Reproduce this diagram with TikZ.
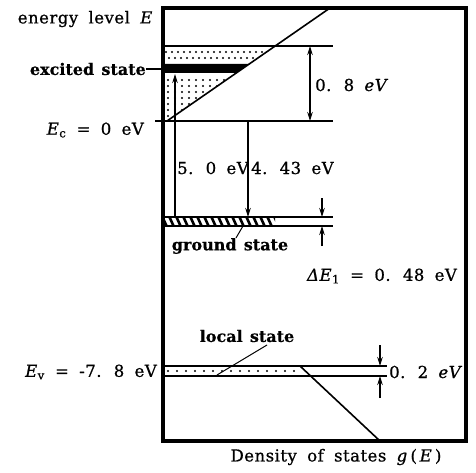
\documentclass[tikz,border=0pt]{standalone}
\usepackage{fontspec}
\setmainfont{DejaVu Serif}[WordSpace=1.8,LetterSpace=3,FakeBold=0.8]
\newfontfamily\boldlbl{DejaVu Serif}[WordSpace=1.3,FakeBold=0.4]
\usetikzlibrary{arrows.meta}
\begin{document}
\begin{tikzpicture}[x=1pt,y=-1pt,
  lbl/.style={inner sep=0pt, font=\fontsize{16.5}{18}\selectfont},
  blbl/.style={inner sep=0pt, font=\fontsize{16}{18}\selectfont\boldlbl\bfseries},
  ln/.style={line width=1.6pt},
  arr/.style={line width=1.4pt, -{Stealth[length=9pt,width=5.5pt]}},
  dimarr/.style={line width=1.4pt, {Stealth[length=9pt,width=5.5pt]}-{Stealth[length=9pt,width=5.5pt]}},
  leader/.style={line width=1pt},
  dotmark/.style={fill=black}
]
\useasboundingbox (0,0) rectangle (476,473);

% frame
\draw[line width=3.5pt] (163,8) rectangle (466,441);

% coordinates
\coordinate (dTop) at (330,8);
\coordinate (dBot) at (167,121);
\coordinate (topL) at (163,46);
\coordinate (topR) at (333,46);
\coordinate (ecL) at (155,121);
\coordinate (ecR) at (333,121);
\coordinate (gTopL) at (163,217);
\coordinate (gTopR) at (333,217);
\coordinate (gBotL) at (163,226);
\coordinate (gBotR) at (333,226);
\coordinate (vTopL) at (163,366);
\coordinate (vTopR) at (387,366);
\coordinate (vBotL) at (163,376);
\coordinate (vBotR) at (387,376);
\coordinate (vdA) at (300,366);
\coordinate (vdB) at (380,441);

% dotted regions in conduction band
\begin{scope}
  \clip (164,48) -- (274,48) -- (249,63) -- (164,63) -- cycle;
  \foreach \x in {166,172,...,280} {
    \fill[dotmark] (\x,52) circle (1.1pt);
    \fill[dotmark] (\x+3,58) circle (1.1pt);
  }
\end{scope}
\begin{scope}
  \clip (164,75) -- (234,75) -- (167,121) -- (164,121) -- cycle;
  \foreach \y in {80,86,...,118} {
    \foreach \x in {168,175,...,240} {
      \fill[dotmark] (\x,\y) circle (1.1pt);
    }
  }
\end{scope}

% excited state band
\fill (163,64) -- (249,64) -- (236,73) -- (163,73) -- cycle;

% lines
\draw[ln] (topL) -- (topR);
\draw[ln] (ecL) -- (ecR);
\draw[ln] (dBot) -- (dTop);

% 0.8 eV
\coordinate (a8t) at (310,46);
\coordinate (a8b) at (310,121);
\draw[dimarr] (a8t) -- (a8b);
\node[lbl, anchor=west] (l08) at (315,85) {0. 8 \textit{eV}};

% transitions
\coordinate (t5b) at (175,217);
\coordinate (t5t) at (175,74);
\draw[arr] (t5b) -- (t5t);
\coordinate (t4t) at (248,121);
\coordinate (t4b) at (248,217);
\draw[arr] (t4t) -- (t4b);
\node[lbl, anchor=west] (l50) at (177,168) {5. 0 eV};
\node[lbl, anchor=west] (l443) at (251,168) {4. 43 eV};

% ground state
\begin{scope}
  \clip (163,217) rectangle (275,226);
  \foreach \x in {162,169,...,276} {
    \draw[line width=2.6pt] (\x,216) -- (\x+5,227);
  }
\end{scope}
\draw[ln] (gTopL) -- (gTopR);
\draw[ln] (gBotL) -- (gBotR);

% Delta E1
\coordinate (d1a) at (322,198);
\coordinate (d1b) at (322,217);
\coordinate (d1c) at (322,246);
\coordinate (d1d) at (322,226);
\draw[arr] (d1a) -- (d1b);
\draw[arr] (d1c) -- (d1d);

\node[blbl] (gs) at (230,246) {ground state};
\coordinate (gsl) at (243,226);
\draw[leader] (gs.north) ++(6,0) -- (gsl);
\node[lbl] (de1) at (382,276) {\textit{ΔE}\textsubscript{1} = 0. 48 eV};

% valence band / local state
\begin{scope}
  \clip (164,367) rectangle (302,375);
  \foreach \x in {168,177,...,300} {
    \fill[dotmark] (\x,371) circle (1.1pt);
  }
\end{scope}
\draw[ln] (vTopL) -- (vTopR);
\draw[ln] (vBotL) -- (vBotR);
\draw[ln] (vdA) -- (vdB);

\node[blbl] (ls) at (247,336) {local state};
\coordinate (lsl) at (217,375);
\draw[leader] (267,345) -- (lsl);

% 0.2 eV
\coordinate (e2a) at (380,345);
\coordinate (e2b) at (380,366);
\coordinate (e2c) at (380,398);
\coordinate (e2d) at (380,376);
\draw[arr] (e2a) -- (e2b);
\draw[arr] (e2c) -- (e2d);
\node[lbl, anchor=west] (l02) at (389,372) {0. 2 \textit{eV}};

% left labels
\node[lbl, anchor=east] (en) at (153,19) {energy level \textit{E}};
\node[blbl, anchor=east] (ex) at (146,69) {excited state};
\coordinate (exl) at (165,69);
\draw[ln] (ex.east) -- (exl);
\node[lbl, anchor=east] (ec) at (144,130) {\textit{E}\textsubscript{c} = 0 eV};
\node[lbl, anchor=east] (ev) at (157,372) {\textit{E}\textsubscript{v} = -7. 8 eV};

% axis label
\node[lbl] (dos) at (336,457) {Density of states \textit{g}\,(\,\textit{E}\,)};
\end{tikzpicture}
\end{document}
